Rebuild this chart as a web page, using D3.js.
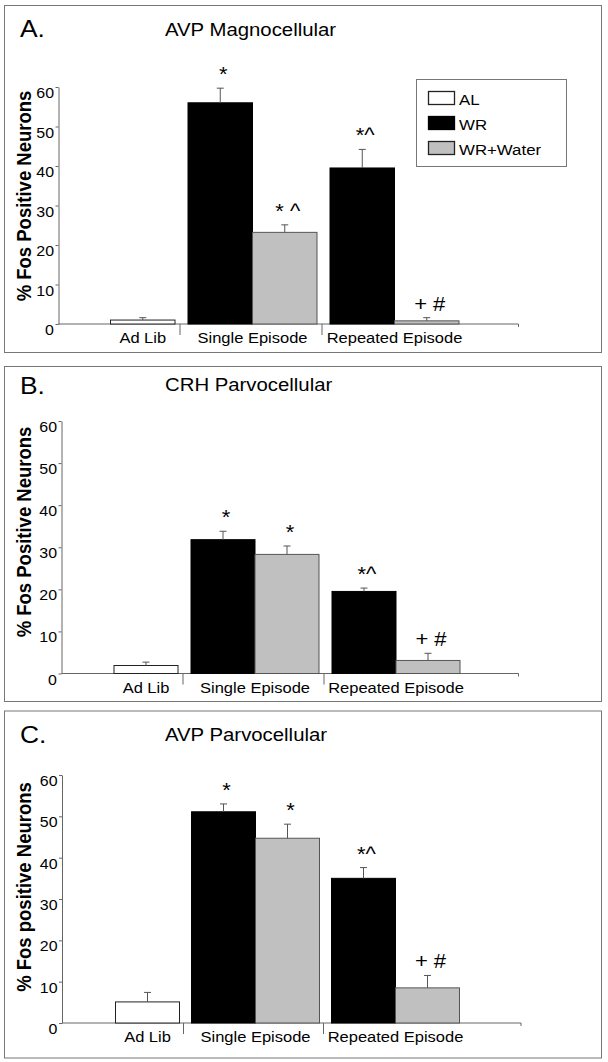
<!DOCTYPE html>
<html><head><meta charset="utf-8">
<script src="https://cdn.jsdelivr.net/npm/d3@7"></script>
<style>
body{margin:0;background:#fff}
svg{display:block}
text{font-family:"Liberation Sans",Arial,Helvetica,sans-serif;fill:#000}
</style>
</head><body>
<svg id="chart" width="608" height="1062"></svg>
<script>
// ---------------- DATA ----------------
const categories = ["Ad Lib", "Single Episode", "Repeated Episode"];
const seriesNames = ["AL", "WR", "WR+Water"];
const yTicks = [0, 10, 20, 30, 40, 50, 60];

// Panel A: AVP Magnocellular
const aTitle = "AVP Magnocellular";
const aLetter = "A.";
const aYLabel = "% Fos Positive Neurons";
const aAL = [1.0, null, null];
const aALErr = [0.6, null, null];
const aWR = [null, 56.0, 39.5];
const aWRErr = [null, 3.7, 4.7];
const aWRW = [null, 23.2, 0.8];
const aWRWErr = [null, 1.9, 0.8];
const aWRMarks = [null, "*", "*^"];
const aWRWMarks = [null, "* ^", "+ #"];

// Panel B: CRH Parvocellular
const bTitle = "CRH Parvocellular";
const bLetter = "B.";
const bYLabel = "% Fos Positive Neurons";
const bAL = [1.9, null, null];
const bALErr = [0.8, null, null];
const bWR = [null, 31.8, 19.5];
const bWRErr = [null, 2.0, 0.8];
const bWRW = [null, 28.3, 3.1];
const bWRWErr = [null, 2.0, 1.7];
const bWRMarks = [null, "*", "*^"];
const bWRWMarks = [null, "*", "+ #"];

// Panel C: AVP Parvocellular
const cTitle = "AVP Parvocellular";
const cLetter = "C.";
const cYLabel = "% Fos positive Neurons";
const cAL = [5.1, null, null];
const cALErr = [2.3, null, null];
const cWR = [null, 51.1, 35.0];
const cWRErr = [null, 1.9, 2.6];
const cWRW = [null, 44.7, 8.5];
const cWRWErr = [null, 3.4, 3.0];
const cWRMarks = [null, "*", "*^"];
const cWRWMarks = [null, "*", "+ #"];

// ---------------- STYLE / LAYOUT ----------------
const SX = 1.1; // horizontal text stretch of the original
const seriesStyle = {
  "AL":       {fill: "#ffffff", stroke: "#222", slot: 1},
  "WR":       {fill: "#000000", stroke: "#000", slot: 0},
  "WR+Water": {fill: "#c0c0c0", stroke: "#555", slot: 1}
};

const panels = [
  {letter: aLetter, title: aTitle, ylab: aYLabel,
   series: [["AL", aAL, aALErr, null], ["WR", aWR, aWRErr, aWRMarks], ["WR+Water", aWRW, aWRWErr, aWRWMarks]],
   top: 5.5, bottom: 352.5, letterY: 37, titleY: 36, axisX: 58.5, y0: 324, y60: 87,
   catStart: 38, catW: 142, barW: 64.5, axisEnd: 518.5, ylabY: 196, legend: true},
  {letter: bLetter, title: bTitle, ylab: bYLabel,
   series: [["AL", bAL, bALErr, null], ["WR", bWR, bWRErr, bWRMarks], ["WR+Water", bWRW, bWRWErr, bWRWMarks]],
   top: 366.5, bottom: 701.5, letterY: 393.5, titleY: 391, axisX: 61.5, y0: 673.5, y60: 421,
   catStart: 42, catW: 141, barW: 64, axisEnd: 518.5, ylabY: 532, legend: false},
  {letter: cLetter, title: cTitle, ylab: cYLabel,
   series: [["AL", cAL, cALErr, null], ["WR", cWR, cWRErr, cWRMarks], ["WR+Water", cWRW, cWRWErr, cWRWMarks]],
   top: 711, bottom: 1058, letterY: 742.5, titleY: 741, axisX: 62, y0: 1023, y60: 775,
   catStart: 43.5, catW: 140, barW: 64, axisEnd: 521, ylabY: 887, legend: false}
];

const svg = d3.select("#chart");

function txt(g, x, y, s, size, opts = {}) {
  const t = g.append("text")
    .attr("transform", `translate(${x},${y}) scale(${SX},1)` + (opts.rotate ? ` rotate(${opts.rotate})` : ""))
    .attr("font-size", size)
    .attr("text-anchor", opts.anchor || "start")
    .text(s);
  if (opts.bold) t.attr("font-weight", "bold");
  return t;
}

panels.forEach(p => {
  const g = svg.append("g");

  // panel frame
  g.append("rect").attr("x", 4.5).attr("y", p.top).attr("width", 597).attr("height", p.bottom - p.top)
    .attr("fill", "none").attr("stroke", "#777").attr("stroke-width", 1);

  txt(g, 20, p.letterY, p.letter, 24);
  txt(g, 165, p.titleY, p.title, 18.5);

  const y = d3.scaleLinear().domain([0, 60]).range([p.y0, p.y60]);
  const x = d3.scaleBand().domain(categories)
    .range([p.catStart, p.catStart + p.catW * categories.length]).padding(0);
  const inner = d3.scaleBand().domain([0, 1]).range([8, 8 + 2 * p.barW]).padding(0);

  // y axis
  const yAxis = d3.axisLeft(y).tickValues(yTicks).tickSize(3).tickSizeOuter(0).tickFormat(d3.format("d"));
  const ya = g.append("g").attr("transform", `translate(${p.axisX},0)`).call(yAxis);
  ya.attr("font-family", null).attr("font-size", null);
  ya.select(".domain").attr("stroke", "#666");
  ya.selectAll(".tick line").attr("stroke", "#666");
  ya.selectAll(".tick text")
    .attr("x", null).attr("dy", null)
    .attr("transform", `translate(-4.5,10.5) scale(${SX},1)`)
    .attr("font-size", 14.5)
    .attr("fill", "#000");

  // y label
  txt(g, 30.5, p.ylabY, p.ylab, 18.5, {rotate: -90, anchor: "middle", bold: true});

  // x axis line + separators
  g.append("line").attr("x1", p.axisX).attr("x2", p.axisEnd).attr("y1", p.y0).attr("y2", p.y0)
    .attr("stroke", "#666");
  categories.slice(1).forEach(c => {
    g.append("line").attr("x1", x(c)).attr("x2", x(c)).attr("y1", p.y0).attr("y2", p.y0 + 11)
      .attr("stroke", "#666");
  });
  g.append("line").attr("x1", p.axisEnd).attr("x2", p.axisEnd).attr("y1", p.y0).attr("y2", p.y0 + 3)
    .attr("stroke", "#666");

  // bars
  const centers = categories.map(() => []);
  p.series.forEach(([name, vals, errs, marks]) => {
    const st = seriesStyle[name];
    vals.forEach((v, i) => {
      if (v == null) return;
      const c = categories[i];
      const bx = x(c) + inner(st.slot);
      const bw = inner.bandwidth();
      const cx = bx + bw / 2;
      centers[i].push(cx);
      g.append("rect").attr("x", bx).attr("y", y(v)).attr("width", bw).attr("height", y(0) - y(v))
        .attr("fill", st.fill).attr("stroke", st.stroke).attr("stroke-width", 1);
      const e = errs[i];
      if (e != null) {
        g.append("line").attr("x1", cx).attr("x2", cx).attr("y1", y(v)).attr("y2", y(v + e))
          .attr("stroke", "#555");
        g.append("line").attr("x1", cx - 3.5).attr("x2", cx + 3.5).attr("y1", y(v + e)).attr("y2", y(v + e))
          .attr("stroke", "#555");
      }
      if (marks && marks[i]) {
        txt(g, cx + 3, y(v + (e || 0)) - 7, marks[i], 20, {anchor: "middle"});
      }
    });
  });

  // category labels
  categories.forEach((c, i) => {
    const cx = d3.mean(centers[i]);
    txt(g, cx, p.y0 + 19, c, 15, {anchor: "middle"});
  });

  // legend
  if (p.legend) {
    const lg = g.append("g");
    lg.append("rect").attr("x", 416.5).attr("y", 79.5).attr("width", 150).attr("height", 87)
      .attr("fill", "#fff").attr("stroke", "#777");
    seriesNames.forEach((s, i) => {
      const cy = 98 + i * 25;
      const st = seriesStyle[s];
      lg.append("rect").attr("x", 428.5).attr("y", cy - 6.5).attr("width", 26).attr("height", 13)
        .attr("fill", st.fill).attr("stroke", s === "WR" ? "#000" : "#222").attr("stroke-width", 1.3);
      txt(lg, 459, cy + 6.5, s, 15.3);
    });
  }
});
</script>
</body></html>
